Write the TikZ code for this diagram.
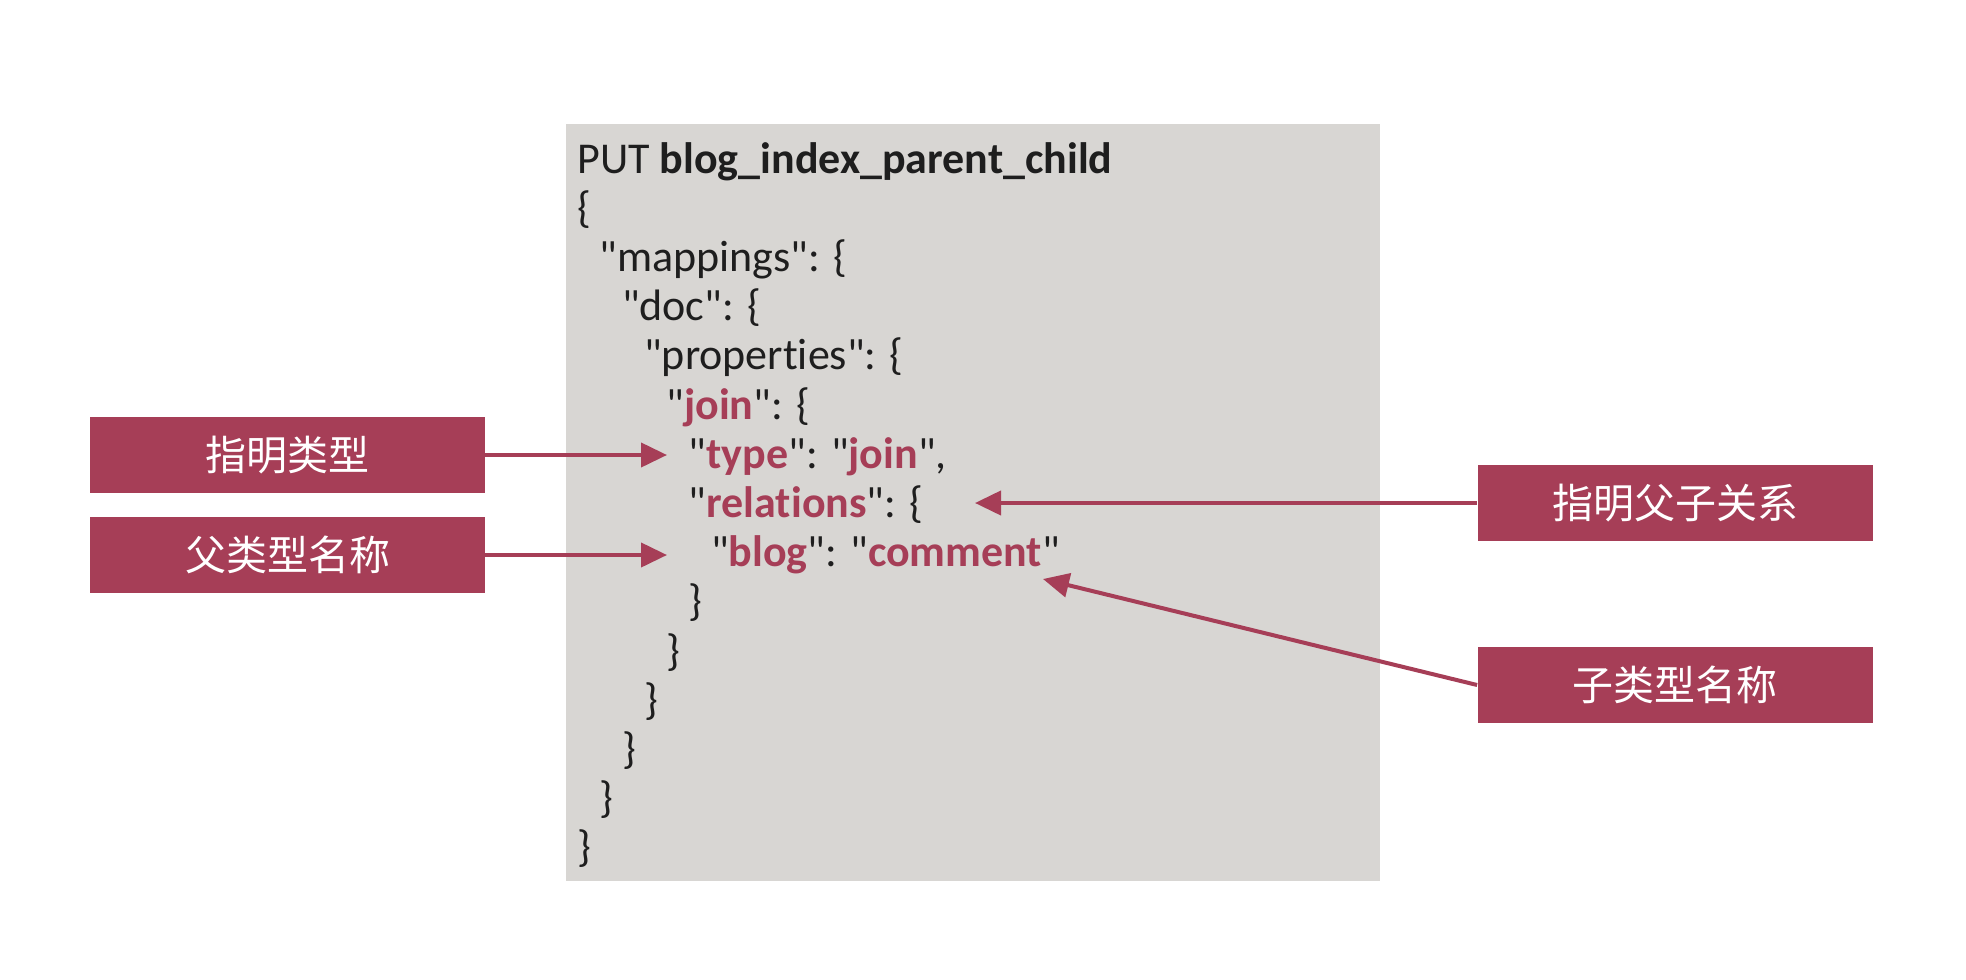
\documentclass[tikz,border=0pt]{standalone}
\usepackage{fontspec}
\setmainfont{Noto Sans CJK SC}
\newfontfamily\codefont{Carlito}[Ligatures={TeXOff,NoCommon}]
\usetikzlibrary{arrows.meta}
\definecolor{crimson}{RGB}{166,62,87}
\definecolor{panel}{RGB}{216,214,211}
\definecolor{ink}{RGB}{30,30,30}
\newcommand{\kw}[1]{\textcolor{crimson}{\textbf{#1}}}
\tikzset{
  codeline/.style={anchor=base west, inner sep=0pt, text=ink, font=\codefont\fontsize{22pt}{24pt}\selectfont},
  lblbox/.style={fill=crimson, text=white, inner sep=0pt, minimum width=197.5pt, minimum height=38pt, font=\fontsize{20.5pt}{24pt}\selectfont},
  arr/.style={draw=crimson, line width=2pt, -{Triangle[length=13pt,width=12pt]}}
}
\begin{document}
\begin{tikzpicture}[x=0.5pt,y=-0.5pt]
\useasboundingbox (0,0) rectangle (1966,980);
\fill[white] (0,0) rectangle (1966,980);
\fill[panel] (566,124) rectangle (1380,881);
\def\ind{22.3}
\node[codeline] (l0) at (577,173) {PUT \textbf{blog\_index\_parent\_child}};
\node[codeline] (l1) at (577,222.2) {\{};
\node[codeline] (l2) at ({577+\ind},271.4) {"mappings": \{};
\node[codeline] (l3) at ({577+2*\ind},320.6) {"doc": \{};
\node[codeline] (l4) at ({577+3*\ind},369.8) {"properties": \{};
\node[codeline] (l5) at ({577+4*\ind},419) {"\kw{join}": \{};
\node[codeline] (l6) at ({577+5*\ind},468.2) {"\kw{type}": "\kw{join}",};
\node[codeline] (l7) at ({577+5*\ind},517.4) {"\kw{relations}": \{};
\node[codeline] (l8) at ({577+6*\ind},566.6) {"\kw{blog}": "\kw{comment}"};
\node[codeline] (l9) at ({577+5*\ind},615.8) {\}};
\node[codeline] (l10) at ({577+4*\ind},665) {\}};
\node[codeline] (l11) at ({577+3*\ind},714.2) {\}};
\node[codeline] (l12) at ({577+2*\ind},763.4) {\}};
\node[codeline] (l13) at ({577+\ind},812.6) {\}};
\node[codeline] (l14) at (577,861.8) {\}};
\node[lblbox] (b1) at (287.5,455) {指明类型};
\node[lblbox] (b2) at (287.5,555) {父类型名称};
\node[lblbox] (b3) at (1675,503) {指明父子关系};
\node[lblbox] (b4) at (1675,685) {子类型名称};
\coordinate (t1) at (667,455);
\coordinate (t2) at (667,555);
\coordinate (t3) at (975,503);
\coordinate (t4) at (1043,579);
\draw[arr] (b1.east) -- (t1);
\draw[arr] (b2.east) -- (t2);
\draw[arr] (b3.west) -- (t3);
\draw[arr] (b4.west) -- (t4);
\end{tikzpicture}
\end{document}
